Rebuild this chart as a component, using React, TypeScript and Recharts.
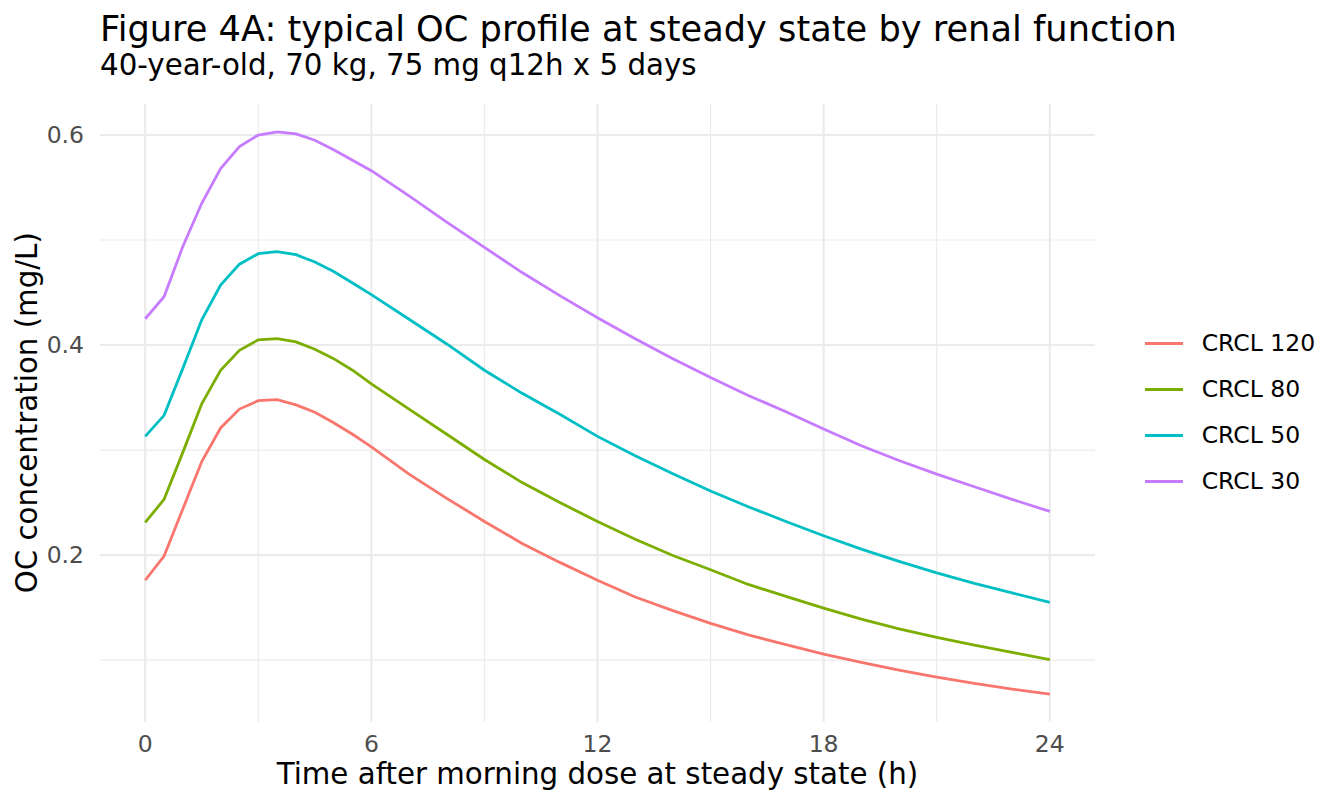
import { LineChart, Line, XAxis, YAxis, CartesianGrid } from 'recharts';

// hours after the morning dose (half-hour steps over the absorption phase)
const hours = [
  0, 0.5, 1, 1.5, 2, 2.5, 3, 3.5, 4, 4.5, 5, 5.5, 6,
  7, 8, 9, 10, 11, 12, 13, 14, 15, 16, 17, 18, 19, 20, 21, 22, 23, 24,
];

// OC concentration (mg/L) per creatinine clearance group
const crcl120 = [
  0.176, 0.199, 0.244, 0.289, 0.321, 0.339, 0.347, 0.348, 0.343, 0.336, 0.326, 0.315, 0.303,
  0.277, 0.254, 0.232, 0.211, 0.193, 0.176, 0.16, 0.147, 0.135, 0.124, 0.1146, 0.1057, 0.0978,
  0.0905, 0.0838, 0.0778, 0.0724, 0.0676,
];
const crcl80 = [
  0.231, 0.253, 0.298, 0.344, 0.376, 0.395, 0.405, 0.406, 0.403, 0.396, 0.387, 0.376, 0.363,
  0.339, 0.315, 0.291, 0.269, 0.25, 0.232, 0.215, 0.1995, 0.186, 0.172, 0.1606, 0.1495, 0.139,
  0.1296, 0.1216, 0.1143, 0.1073, 0.1003,
];
const crcl50 = [
  0.313, 0.333, 0.378, 0.424, 0.457, 0.477, 0.487, 0.489, 0.486, 0.479, 0.47, 0.459, 0.448,
  0.4245, 0.401, 0.376, 0.354, 0.334, 0.313, 0.2945, 0.2775, 0.261, 0.246, 0.232, 0.2184, 0.2057,
  0.194, 0.183, 0.173, 0.164, 0.155,
];
const crcl30 = [
  0.425, 0.446, 0.494, 0.535, 0.568, 0.589, 0.6, 0.603, 0.601, 0.595, 0.586, 0.576, 0.566,
  0.542, 0.517, 0.493, 0.469, 0.447, 0.426, 0.406, 0.387, 0.369, 0.352, 0.3365, 0.32, 0.304,
  0.29, 0.277, 0.265, 0.253, 0.2416,
];

const seriesKeys = ['crcl120', 'crcl80', 'crcl50', 'crcl30'];
const seriesNames = ['CRCL 120', 'CRCL 80', 'CRCL 50', 'CRCL 30'];
const seriesColors = ['#F8766D', '#7CAE00', '#00BFC4', '#C77CFF'];

const xMajor = [0, 6, 12, 18, 24];
const xMinor = [3, 9, 15, 21];
const yMajor = [0.2, 0.4, 0.6];
const yMinor = [0.1, 0.3, 0.5];

const rows = hours.map((t, i) => ({
  t,
  crcl120: crcl120[i],
  crcl80: crcl80[i],
  crcl50: crcl50[i],
  crcl30: crcl30[i],
}));

const FONT = '"DejaVu Sans", Verdana, sans-serif';
const W = 1344;
const H = 806;
const LINE_W = 2.8;

const XTitle = ({ viewBox }: any) => {
  const cx = viewBox.x + viewBox.width / 2;
  return (
    <text x={cx} y={784} textAnchor="middle" fontSize={29.3} fill="#000" fontFamily={FONT}>
      Time after morning dose at steady state (h)
    </text>
  );
};

const YTitle = ({ viewBox }: any) => {
  const cy = viewBox.y + viewBox.height / 2;
  return (
    <text
      x={36.7}
      y={cy}
      transform={`rotate(-90, 36.7, ${cy})`}
      textAnchor="middle"
      fontSize={29.3}
      fill="#000"
      fontFamily={FONT}
    >
      OC concentration (mg/L)
    </text>
  );
};

// legend keys in series order, to the right of the panel
const LegendBox = () => (
  <div style={{ position: 'absolute', left: 1145, top: 320.2, fontFamily: FONT }}>
    {seriesNames.map((name, i) => (
      <div key={name} style={{ height: 46.2, display: 'flex', alignItems: 'center' }}>
        <span
          style={{ width: 37.7, height: LINE_W, background: seriesColors[i], display: 'inline-block' }}
        />
        <span style={{ marginLeft: 19, fontSize: 23.5, color: '#000', lineHeight: 1 }}>{name}</span>
      </div>
    ))}
  </div>
);

export default function App() {
  return (
    <div style={{ position: 'absolute', left: 0, top: 0, width: W, height: H, background: '#fff' }}>
      <LineChart
        width={W}
        height={H}
        data={rows}
        margin={{ top: 103.5, right: 249, bottom: 54, left: 40 }}
      >
        <text x={100} y={40.7} fontSize={35.2} fill="#000" fontFamily={FONT}>
          Figure 4A: typical OC profile at steady state by renal function
        </text>
        <text x={100} y={74.5} fontSize={29.3} fill="#000" fontFamily={FONT}>
          40-year-old, 70 kg, 75 mg q12h x 5 days
        </text>
        <CartesianGrid
          verticalValues={xMinor}
          horizontalValues={yMinor}
          stroke="#ebebeb"
          strokeWidth={1.2}
          syncWithTicks={false}
        />
        <CartesianGrid
          verticalValues={xMajor}
          horizontalValues={yMajor}
          stroke="#ebebeb"
          strokeWidth={2.2}
          syncWithTicks={false}
        />
        <XAxis
          dataKey="t"
          type="number"
          domain={[-1.2, 25.2]}
          ticks={xMajor}
          allowDataOverflow
          axisLine={false}
          tickLine={false}
          tickSize={6}
          tickMargin={7.6}
          height={30}
          tick={{ fill: '#4d4d4d', fontSize: 23.5, fontFamily: FONT }}
          label={{ content: XTitle }}
        />
        <YAxis
          type="number"
          domain={[0.041, 0.63]}
          ticks={yMajor}
          allowDataOverflow
          axisLine={false}
          tickLine={false}
          tickSize={6}
          tickMargin={10}
          width={60}
          tick={{ fill: '#4d4d4d', fontSize: 23.5, fontFamily: FONT }}
          label={{ content: YTitle }}
        />
        {seriesKeys.map((k, i) => (
          <Line
            key={k}
            type="linear"
            dataKey={k}
            name={seriesNames[i]}
            stroke={seriesColors[i]}
            strokeWidth={LINE_W}
            dot={false}
            activeDot={false}
            isAnimationActive={false}
          />
        ))}
      </LineChart>
      <LegendBox />
    </div>
  );
}
